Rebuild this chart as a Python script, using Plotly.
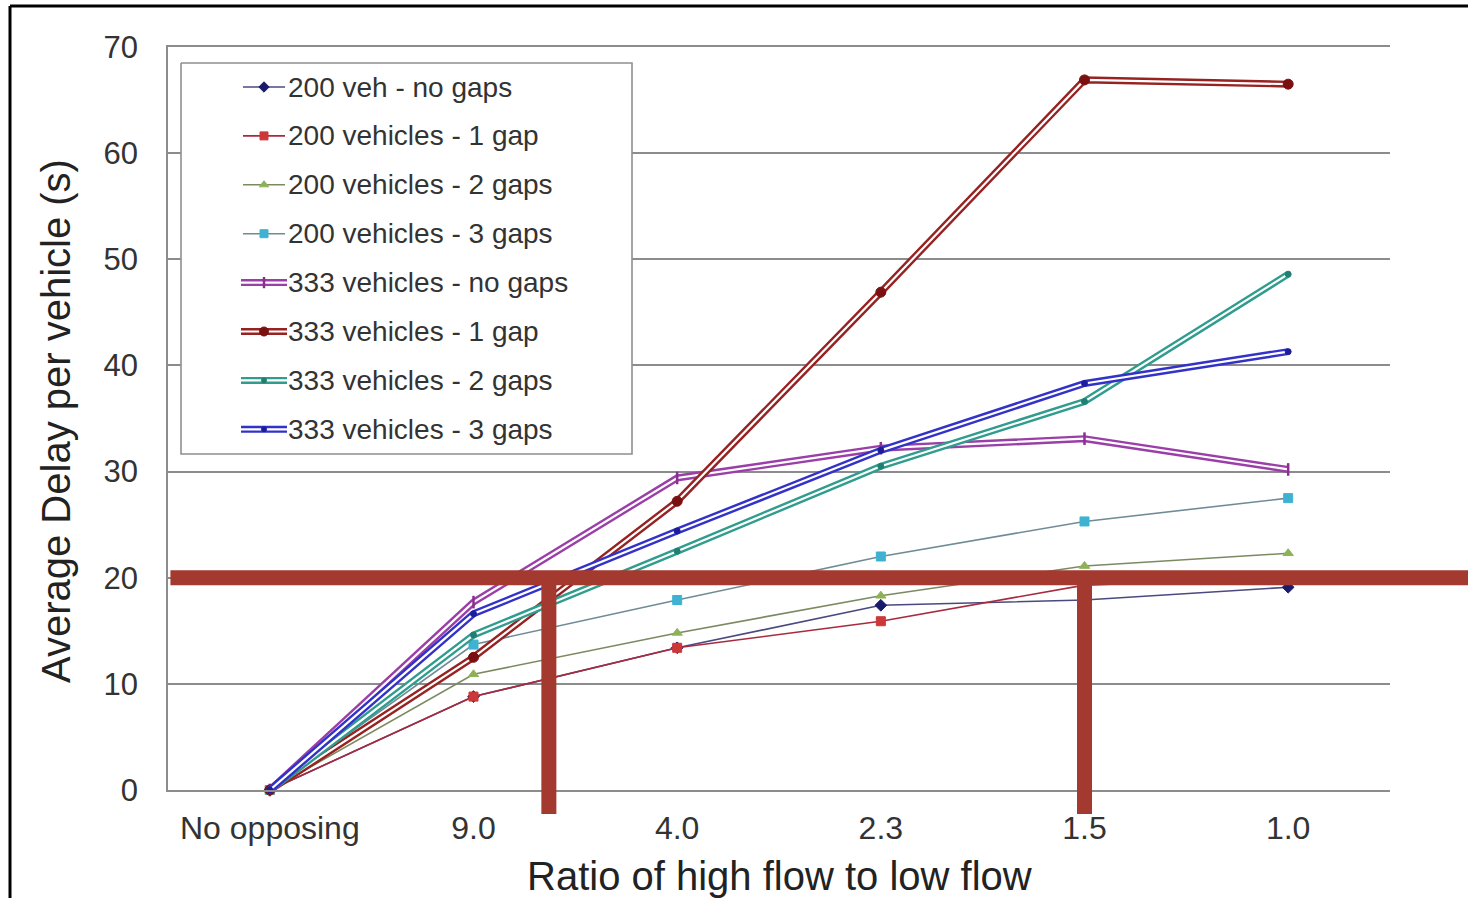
import plotly.graph_objects as go

# ---- data -------------------------------------------------------------
categories = ["No opposing", "9.0", "4.0", "2.3", "1.5", "1.0"]

veh200_no_gaps = [0, 8.8, 13.4, 17.4, 17.9, 19.1]
veh200_1_gap = [0, 8.8, 13.4, 15.9, 19.3, 20.0]
veh200_2_gaps = [0, 10.9, 14.8, 18.3, 21.1, 22.3]
veh200_3_gaps = [0, 13.7, 17.9, 22.0, 25.3, 27.5]
veh333_no_gaps = [0, 17.7, 29.4, 32.2, 33.1, 30.2]
veh333_1_gap = [0, 12.5, 27.2, 46.9, 66.9, 66.5]
veh333_2_gaps = [0, 14.6, 22.5, 30.5, 36.6, 48.6]
veh333_3_gaps = [0, 16.6, 24.4, 32.0, 38.3, 41.3]

y_ticks = [0, 10, 20, 30, 40, 50, 60, 70]

# acceptable-delay threshold and the ratios where it is crossed
threshold = 20
threshold_ratio_idx = [1.37, 4]

# ---- styling ------------------------------------------------------------
FONT = "Liberation Sans, Arial, sans-serif"
TXT = "#333333"
GRID = "#8c8c8c"
BAR = "#A3392F"

W, H = 1468, 898
L, R, T, B = 168, 78, 47, 108
PW, PH = W - L - R, H - T - B
Y_MAX = 70

# (name, values, marker color, line color, symbol, size, double line?)
series = [
    ("200 veh - no gaps", veh200_no_gaps, "#1b1b6b", "#4a4a80", "diamond", 9, False),
    ("200 vehicles - 1 gap", veh200_1_gap, "#cc3838", "#a82a3e", "square", 9, False),
    ("200 vehicles - 2 gaps", veh200_2_gaps, "#8db255", "#7c8a62", "triangle-up", 9, False),
    ("200 vehicles - 3 gaps", veh200_3_gaps, "#3fb2d2", "#6f8c96", "square", 9, False),
    ("333 vehicles - no gaps", veh333_no_gaps, "#8a2f8f", "#9a3fa8", "line-ns", 9, True),
    ("333 vehicles - 1 gap", veh333_1_gap, "#7a1010", "#962222", "circle", 10, True),
    ("333 vehicles - 2 gaps", veh333_2_gaps, "#1f7f72", "#2f9c8e", "circle", 6, True),
    ("333 vehicles - 3 gaps", veh333_3_gaps, "#1c1c9c", "#3232c8", "circle", 6, True),
]


def marker_style(color, symbol, size):
    m = dict(color=color, symbol=symbol, size=size, line=dict(color=color, width=1))
    if symbol.startswith("line"):
        m["line"] = dict(color=color, width=2.5)
    return m


fig = go.Figure()

for name, vals, mcol, lcol, sym, size, double in series:
    if double:
        fig.add_trace(go.Scatter(x=categories, y=vals, mode="lines",
                                 line=dict(color=lcol, width=7),
                                 showlegend=False, cliponaxis=False, hoverinfo="skip"))
        fig.add_trace(go.Scatter(x=categories, y=vals, mode="lines",
                                 line=dict(color="white", width=2.2),
                                 showlegend=False, cliponaxis=False, hoverinfo="skip"))
        fig.add_trace(go.Scatter(x=categories, y=vals, mode="markers", name=name,
                                 marker=marker_style(mcol, sym, size),
                                 showlegend=False, cliponaxis=False))
    else:
        fig.add_trace(go.Scatter(x=categories, y=vals, mode="lines+markers", name=name,
                                 line=dict(color=lcol, width=1.6),
                                 marker=marker_style(mcol, sym, size),
                                 showlegend=False, cliponaxis=False))

# ---- legend box drawn on a pixel-space overlay axis -----------------------
LEG_X0, LEG_X1, LEG_Y0, LEG_Y1 = 181, 632, 63, 454
ROW0, ROW_STEP = 87, 48.9
SAMPLE_X0, SAMPLE_X1, SAMPLE_MID, TEXT_X = 241, 287, 264, 286

fig.add_trace(go.Scatter(
    x=[LEG_X0, LEG_X1, LEG_X1, LEG_X0, LEG_X0],
    y=[LEG_Y0, LEG_Y0, LEG_Y1, LEG_Y1, LEG_Y0],
    mode="lines", fill="toself", fillcolor="white",
    line=dict(color="#8f8f8f", width=1.6),
    xaxis="x2", yaxis="y2", showlegend=False, hoverinfo="skip"))

for i, (name, vals, mcol, lcol, sym, size, double) in enumerate(series):
    ry = ROW0 + i * ROW_STEP
    if double:
        fig.add_trace(go.Scatter(x=[SAMPLE_X0, SAMPLE_X1], y=[ry, ry], mode="lines",
                                 line=dict(color=lcol, width=7), xaxis="x2", yaxis="y2",
                                 showlegend=False, hoverinfo="skip"))
        fig.add_trace(go.Scatter(x=[SAMPLE_X0, SAMPLE_X1], y=[ry, ry], mode="lines",
                                 line=dict(color="white", width=2.2), xaxis="x2", yaxis="y2",
                                 showlegend=False, hoverinfo="skip"))
    else:
        fig.add_trace(go.Scatter(x=[SAMPLE_X0 + 2, SAMPLE_X1 - 2], y=[ry, ry], mode="lines",
                                 line=dict(color=lcol, width=1.6), xaxis="x2", yaxis="y2",
                                 showlegend=False, hoverinfo="skip"))
    fig.add_trace(go.Scatter(x=[SAMPLE_MID], y=[ry], mode="markers",
                             marker=marker_style(mcol, sym, size - 1),
                             xaxis="x2", yaxis="y2", showlegend=False, hoverinfo="skip"))
    fig.add_annotation(x=TEXT_X, y=ry, xref="x2", yref="y2", text=name,
                       showarrow=False, xanchor="left", yanchor="middle",
                       font=dict(family=FONT, size=28, color=TXT))

# ---- threshold bars ------------------------------------------------------
fig.add_shape(type="line", xref="paper", yref="y", x0=0.002, x1=1.08,
              y0=threshold, y1=threshold, line=dict(color=BAR, width=15), layer="above")
for xi in threshold_ratio_idx:
    fig.add_shape(type="line", xref="x", yref="paper", x0=xi, x1=xi,
                  y0=-24 / PH, y1=threshold / Y_MAX,
                  line=dict(color=BAR, width=15), layer="above")

# ---- outer frame (top and left edges) -------------------------------------
def px_x(px):
    return (px - L) / PW


def px_y(py):
    return (H - B - py) / PH


fig.add_shape(type="line", xref="paper", yref="paper", x0=px_x(10), x1=px_x(W + 10),
              y0=px_y(6), y1=px_y(6), line=dict(color="black", width=3))
fig.add_shape(type="line", xref="paper", yref="paper", x0=px_x(10), x1=px_x(10),
              y0=px_y(6), y1=px_y(H + 10), line=dict(color="black", width=3))

# ---- axis titles ---------------------------------------------------------
fig.add_annotation(text="Ratio of high flow to low flow", xref="paper", yref="paper",
                   x=0.5, y=px_y(876), xanchor="center", yanchor="middle", showarrow=False,
                   font=dict(family=FONT, size=40, color="#222222"))
fig.add_annotation(text="Average Delay per vehicle (s)", xref="paper", yref="paper",
                   x=px_x(56), y=px_y(421), xanchor="center", yanchor="middle",
                   textangle=-90, showarrow=False,
                   font=dict(family=FONT, size=40, color="#222222"))

fig.update_layout(
    width=W, height=H,
    margin=dict(l=L, r=R, t=T, b=B),
    paper_bgcolor="white", plot_bgcolor="white",
    showlegend=False,
    font=dict(family=FONT, color=TXT),
    xaxis=dict(type="category", range=[-0.5, 5.5], showgrid=False,
               showline=True, mirror=True, linecolor=GRID, linewidth=1.6,
               zeroline=False, ticks="",
               tickfont=dict(family=FONT, size=32, color=TXT),
               ticklabelstandoff=9, fixedrange=True),
    yaxis=dict(range=[0, Y_MAX], tickvals=y_ticks, showgrid=True,
               gridcolor=GRID, gridwidth=1.6, zeroline=False,
               showline=True, linecolor=GRID, linewidth=1.6, ticks="",
               tickfont=dict(family=FONT, size=31, color=TXT),
               ticklabelstandoff=22, fixedrange=True),
    xaxis2=dict(overlaying="x", range=[L, L + PW], visible=False, fixedrange=True),
    yaxis2=dict(overlaying="y", range=[H - B, T], visible=False, fixedrange=True),
)

fig.write_html("out.html")
